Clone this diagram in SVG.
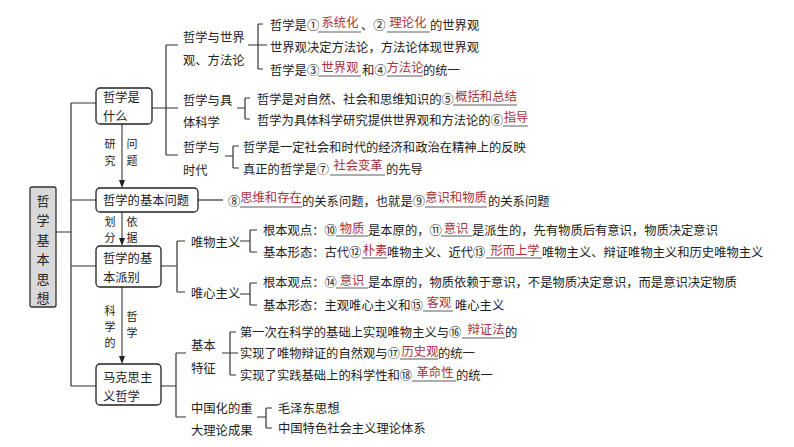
<svg xmlns="http://www.w3.org/2000/svg" width="794" height="447" viewBox="0 0 794 447">
<defs>
<style>
text{font-family:"Noto Sans CJK SC","Noto Sans",sans-serif;font-size:12.3px;fill:#222;dominant-baseline:central}
.r{fill:#a8323c;text-anchor:middle}
.s{font-size:11px;text-anchor:middle}
.b{font-size:12.3px}
.c{text-anchor:middle;font-size:13px}
.ln{stroke:#333;stroke-width:1.2;fill:none}
.u{stroke:#333;stroke-width:0.8;fill:none}
.box{fill:#fff;stroke:#222;stroke-width:1.3}
.ar{stroke:#222;stroke-width:1;fill:none}
.ah{fill:#222}
</style>
</defs>
<rect width="794" height="447" fill="#fff"/>

<g id="connectors">
<path class="ln" d="M56 232H71M71 103V386M71 103H96M71 200H96M71 266H96M71 386H96"/>
<path class="ln" d="M152 108H178M166 45V155M166 45H178M166 155H178"/>
<path class="ln" d="M248 45H267M258 24V69M258 24H263M258 69H263"/>
<path class="ln" d="M237 108H245M245 98V119M245 98H250M245 119H250"/>
<path class="ln" d="M225 156H233M233 146V168M233 146H239M233 168H239"/>
<path class="ln" d="M198 200H223"/>
<path class="ln" d="M161 266H177M177 241V292M177 241H185M177 292H185"/>
<path class="ln" d="M240 241H250M250 230V252M250 230H257M250 252H257"/>
<path class="ln" d="M240 294H250M250 283V305M250 283H257M250 305H257"/>
<path class="ln" d="M161 386H176M176 353V417M176 353H186M176 417H186"/>
<path class="ln" d="M222 353H238M230 332V375M230 332H236M230 375H236"/>
<path class="ln" d="M257 417H266M266 408V428M266 408H272M266 428H272"/>
<path class="ar" d="M122 124V181"/>
<path class="ah" d="M119 180H125L122 188Z"/>
<path class="ar" d="M122 212V239"/>
<path class="ah" d="M119 238H125L122 246Z"/>
<path class="ar" d="M122 287V357"/>
<path class="ah" d="M119 356H125L122 364Z"/>
<text class="s" x="110" y="143">研</text><text class="s" x="110" y="160">究</text>
<text class="s" x="132" y="143">问</text><text class="s" x="132" y="160">题</text>
<text class="s" x="110" y="221">划</text><text class="s" x="110" y="237">分</text>
<text class="s" x="132" y="221">依</text><text class="s" x="132" y="237">据</text>
<text class="s" x="110" y="310">科</text><text class="s" x="110" y="326">学</text><text class="s" x="110" y="342">的</text>
<text class="s" x="132" y="316">哲</text><text class="s" x="132" y="332">学</text>
</g>

<g id="root">
<rect x="30" y="187" width="26" height="120" rx="2" fill="#d9d9d9" stroke="#333" stroke-width="1.3"/>
<text class="c" x="43" y="200">哲</text><text class="c" x="43" y="219">学</text><text class="c" x="43" y="239">基</text>
<text class="c" x="43" y="258">本</text><text class="c" x="43" y="278">思</text><text class="c" x="43" y="297">想</text>
</g>

<g id="n-what">
<rect class="box" x="96" y="88" width="56" height="36" rx="4"/>
<text class="b" x="103" y="97">哲学是</text><text class="b" x="103" y="115.5">什么</text>
</g>
<g id="n-basic-question">
<rect class="box" x="96" y="188" width="102" height="24" rx="4"/>
<text class="b" x="103" y="200">哲学的基本问题</text>
</g>
<g id="n-schools">
<rect class="box" x="96" y="246" width="65" height="41" rx="4"/>
<text class="b" x="103" y="258">哲学的基</text><text class="b" x="103" y="276.5">本派别</text>
</g>
<g id="n-marx">
<rect class="box" x="96" y="364" width="65" height="41" rx="4"/>
<text class="b" x="103" y="377">马克思主</text><text class="b" x="103" y="395.5">义哲学</text>
</g>

<g id="n-worldview">
<text x="183" y="37">哲学与世界</text><text x="183" y="60">观、方法论</text>
<text x="270" y="25">哲学是①</text>
<path class="u" d="M318 32H361M387 32H430"/>
<text class="r" x="340" y="22">系统化</text>
<text x="361" y="25">、②</text>
<text class="r" x="408" y="22">理论化</text>
<text x="430" y="25">的世界观</text>
<text x="270" y="47">世界观决定方法论，方法论体现世界观</text>
<text x="270" y="70">哲学是③</text>
<path class="u" d="M318 76H361M387 76H423"/>
<text class="r" x="340" y="67">世界观</text>
<text x="362" y="70">和④</text>
<text class="r" x="405" y="67">方法论</text>
<text x="423" y="70">的统一</text>
</g>

<g id="n-science">
<text x="183" y="100">哲学与具</text><text x="183" y="122">体科学</text>
<text x="257" y="99">哲学是对自然、社会和思维知识的⑤</text>
<path class="u" d="M453 105H517"/>
<text class="r" x="486" y="96">概括和总结</text>
<text x="257" y="120">哲学为具体科学研究提供世界观和方法论的⑥</text>
<path class="u" d="M503 126H528"/>
<text class="r" x="516" y="117">指导</text>
</g>

<g id="n-era">
<text x="183" y="147">哲学与</text><text x="183" y="170">时代</text>
<text x="243" y="147">哲学是一定社会和时代的经济和政治在精神上的反映</text>
<text x="243" y="169">真正的哲学是⑦</text>
<path class="u" d="M330 175H385"/>
<text class="r" x="358" y="165">社会变革</text>
<text x="386" y="169">的先导</text>
</g>

<g id="n-question-detail">
<text x="228" y="201">⑧</text>
<path class="u" d="M240 207H302M425 207H487"/>
<text class="r" x="271" y="197">思维和存在</text>
<text x="302" y="201">的关系问题，也就是⑨</text>
<text class="r" x="456" y="197">意识和物质</text>
<text x="488" y="201">的关系问题</text>
</g>

<g id="n-materialism">
<text x="191" y="242">唯物主义</text>
<text x="263" y="230">根本观点：⑩</text>
<path class="u" d="M336 236H368M441 236H472"/>
<text class="r" x="352" y="228">物质</text>
<text x="368" y="230">是本原的，⑪</text>
<text class="r" x="456" y="228">意识</text>
<text x="472" y="230">是派生的，先有物质后有意识，物质决定意识</text>
<text x="263" y="252">基本形态：古代⑫</text>
<path class="u" d="M362 258H387M486 258H542"/>
<text class="r" x="375" y="250">朴素</text>
<text x="387" y="252">唯物主义、近代⑬</text>
<text class="r" x="515" y="250">形而上学</text>
<text x="542" y="252">唯物主义、辩证唯物主义和历史唯物主义</text>
</g>

<g id="n-idealism">
<text x="191" y="293">唯心主义</text>
<text x="263" y="282">根本观点：⑭</text>
<path class="u" d="M336 288H368"/>
<text class="r" x="352" y="280">意识</text>
<text x="368" y="282">是本原的，物质依赖于意识，不是物质决定意识，而是意识决定物质</text>
<text x="263" y="305">基本形态：主观唯心主义和⑮</text>
<path class="u" d="M423 311H453"/>
<text class="r" x="439" y="302">客观</text>
<text x="455" y="305">唯心主义</text>
</g>

<g id="n-features">
<text x="191" y="345">基本</text><text x="191" y="368">特征</text>
<text x="240" y="332">第一次在科学的基础上实现唯物主义与⑯</text>
<path class="u" d="M462 338H505"/>
<text class="r" x="486" y="329">辩证法</text>
<text x="505" y="332">的</text>
<text x="240" y="353">实现了唯物辩证的自然观与⑰</text>
<path class="u" d="M400 359H438"/>
<text class="r" x="420" y="351">历史观</text>
<text x="438" y="353">的统一</text>
<text x="240" y="375">实现了实践基础上的科学性和⑱</text>
<path class="u" d="M412 381H456"/>
<text class="r" x="435" y="372">革命性</text>
<text x="456" y="375">的统一</text>
</g>

<g id="n-china">
<text x="191" y="408">中国化的重</text><text x="191" y="430">大理论成果</text>
<text x="278" y="408">毛泽东思想</text>
<text x="278" y="428">中国特色社会主义理论体系</text>
</g>
</svg>
